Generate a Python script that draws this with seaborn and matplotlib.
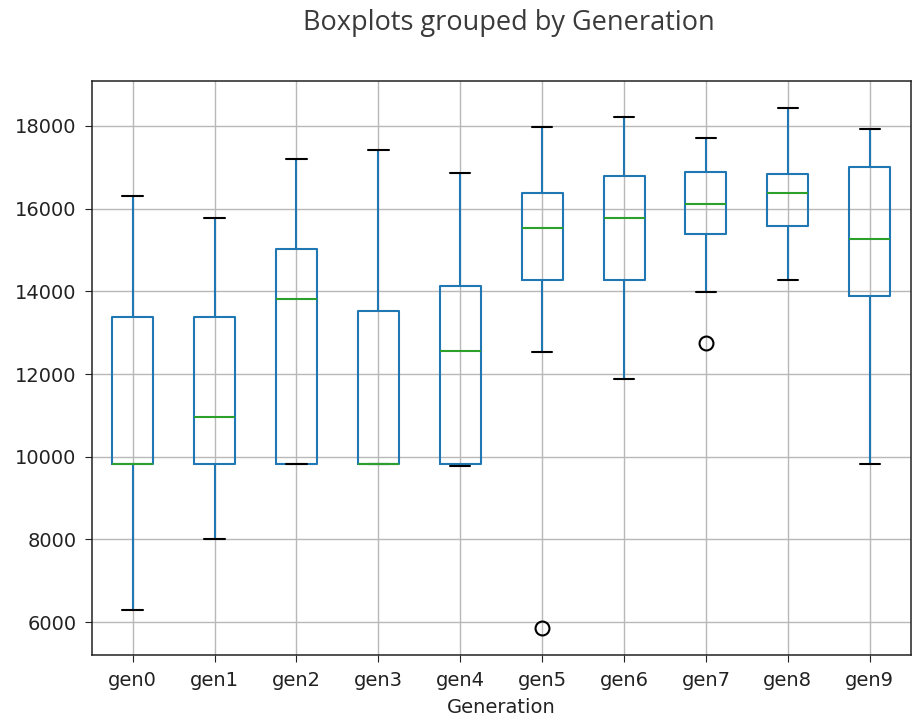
import matplotlib
matplotlib.use("Agg")
import matplotlib.pyplot as plt
import pandas as pd
import seaborn as sns

# Summary statistics per generation
generations = ["gen0", "gen1", "gen2", "gen3", "gen4", "gen5", "gen6", "gen7", "gen8", "gen9"]
whisker_low = [6300, 8000, 9820, 9820, 9785, 12520, 11880, 13990, 14270, 9820]
q1 = [9820, 9820, 9820, 9820, 9820, 14270, 14270, 15385, 15580, 13890]
median = [9820, 10970, 13810, 9820, 12550, 15530, 15780, 16100, 16385, 15270]
q3 = [13370, 13370, 15020, 13525, 14120, 16385, 16780, 16880, 16845, 16995]
whisker_high = [16310, 15780, 17205, 17420, 16850, 17970, 18210, 17710, 18425, 17930]
outliers = {"gen5": [5850], "gen7": [12760]}


def sample(i, gen):
    """Nine observations whose quartiles (linear interpolation) reproduce the stats."""
    low = sorted(outliers.get(gen, [])) + [whisker_low[i]]
    low = low + [q1[i]] * (3 - len(low))
    return low + [median[i]] * 3 + [q3[i]] * 2 + [whisker_high[i]]


rows = []
for i, g in enumerate(generations):
    for v in sample(i, g):
        rows.append({"Generation": g, "Fitness": v})
df = pd.DataFrame(rows)

sns.set_style("whitegrid")
plt.rcParams["font.family"] = ["DejaVu Sans"]
plt.rcParams.update({
    "axes.edgecolor": "#222222",
    "axes.linewidth": 1.1,
    "grid.color": "#b8b8b8",
    "grid.linewidth": 1.0,
    "xtick.bottom": True,
    "ytick.left": True,
    "xtick.major.size": 5,
    "ytick.major.size": 5,
    "xtick.major.pad": 6,
    "ytick.major.pad": 6,
    "xtick.color": "#222222",
    "ytick.color": "#222222",
    "text.color": "#222222",
    "axes.labelcolor": "#222222",
})

fig = plt.figure(figsize=(9.15, 7.23), dpi=100)
ax = fig.add_axes([0.1002, 0.0936, 0.8951, 0.7948])

blue = "#1f77b4"
green = "#2ca02c"
sns.boxplot(
    data=df, x="Generation", y="Fitness", order=generations, ax=ax,
    fill=False, width=0.5, linewidth=1.5, whis=1.5,
    boxprops={"color": blue},
    whiskerprops={"color": blue},
    capprops={"color": "black"},
    medianprops={"color": green},
    flierprops={"marker": "o", "markerfacecolor": "none",
                "markeredgecolor": "black", "markersize": 10,
                "markeredgewidth": 1.5},
)

ax.set_xlim(-0.5, 9.5)
ax.set_ylim(5200, 19090)
ax.set_yticks(range(6000, 18001, 2000))
ax.grid(True, axis="both")
ax.set_axisbelow(True)
for s in ax.spines.values():
    s.set_visible(True)
ax.tick_params(labelsize=14)
ax.set_xlabel("Generation", fontsize=14, labelpad=6)
ax.set_ylabel("")

fig.text(0.556, 0.9585, "Boxplots grouped by Generation", ha="center", va="baseline",
         fontsize=19.5, family=["Open Sans", "DejaVu Sans"], color="#3a3a3a")

fig.savefig("out.png", dpi=100)
